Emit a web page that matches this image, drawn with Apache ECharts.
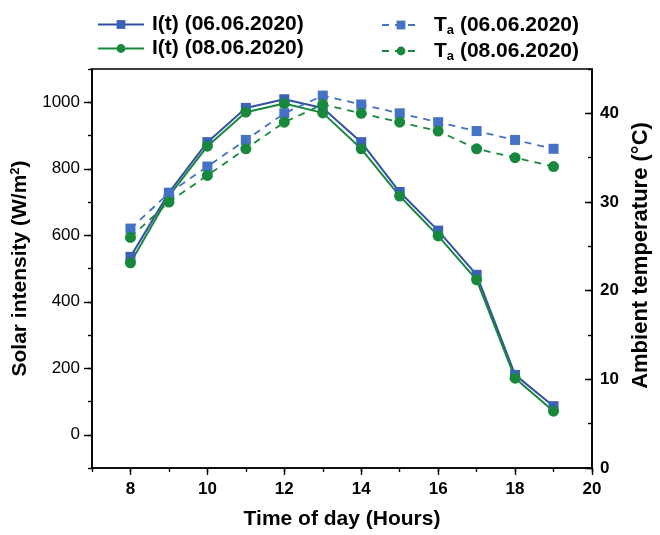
<!DOCTYPE html>
<html>
<head>
<meta charset="utf-8">
<script src="https://cdn.jsdelivr.net/npm/echarts@6/dist/echarts.min.js"></script>
<style>
	html, body { margin: 0; padding: 0; background: #fff; }
	#chart { width: 660px; height: 535px; }
</style>
</head>
<body>
<div id="chart"></div>
<script>
// hours of the day
var hours = [8, 9, 10, 11, 12, 13, 14, 15, 16, 17, 18, 19];
// solar intensity I(t), W/m2
var solar0606 = [535, 728, 880, 983, 1009, 983, 880, 730, 614, 481, 180, 86];
var solar0806 = [517, 718, 868, 970, 996, 968, 860, 718, 598, 466, 170, 71];
// ambient temperature Ta, degC
var temp0606 = [27, 31, 34, 37, 40, 42, 41, 40, 39, 38, 37, 36];
var temp0806 = [26, 30, 33, 36, 39, 41, 40, 39, 38, 36, 35, 34];

var xMajor = [8, 10, 12, 14, 16, 18, 20];
var leftMajor = [0, 200, 400, 600, 800, 1000];
var rightMajor = [0, 10, 20, 30, 40];

var FONT = "Liberation Sans";
var BLUE_LINE = "#3150a6";
var BLUE_MARK = "#3b62b8";
var BLUE_DASH = "#4472c4";
var GREEN = "#17883c";

function pairs(xs, ys) {
	var arr = [];
	for (var i = 0; i < xs.length; i++) {
		arr.push([xs[i], ys[i]]);
	}
	return arr;
}

var axisLine = { show: true, onZero: false, lineStyle: { color: "#000", width: 1.6 } };
var noLine = { show: false, onZero: false };

var legendRich = {
	b: { fontFamily: FONT, fontSize: 21, fontWeight: "bold", color: "#000", lineHeight: 24 },
	p: { fontFamily: FONT, fontSize: 21, fontWeight: "bold", color: "#000", lineHeight: 24, padding: [0, 0, 0, 3] },
	t: { fontFamily: FONT, fontSize: 21, fontWeight: "bold", color: "#000", lineHeight: 24, padding: [0, 0, 0, 9] },
	s: { fontFamily: FONT, fontSize: 13, fontWeight: "bold", color: "#000", lineHeight: 13, verticalAlign: "bottom", padding: [10, 0, 0, 0] }
};

var option = {
	animation: false,
	backgroundColor: "#fff",
	grid: {
		left: 92, right: 68, top: 69, bottom: 64,
		show: true, borderColor: "#000", borderWidth: 1.6, backgroundColor: "transparent"
	},
	legend: [
		{
			data: ["I(t) (06.06.2020)", "I(t) (08.06.2020)"],
			orient: "vertical",
			left: 92, top: 9,
			itemWidth: 46, itemHeight: 11, itemGap: 3,
			formatter: function (name) { return "{p|" + name + "}"; },
			textStyle: { rich: legendRich }
		},
		{
			data: ["Ta (06.06.2020)", "Ta (08.06.2020)"],
			orient: "vertical",
			left: 376, top: 9,
			itemWidth: 38, itemHeight: 11, itemGap: 3,
			formatter: function (name) {
				return "{t|T}{s|a}{b|" + name.substring(2) + "}";
			},
			textStyle: { rich: legendRich }
		}
	],
	xAxis: [
		{
			type: "value", min: 7, max: 20, interval: 1, position: "bottom",
			axisLine: axisLine,
			axisTick: { show: true, inside: false, length: 4, lineStyle: { color: "#000", width: 1.4 } },
			axisLabel: {
				margin: 13, fontFamily: FONT, fontSize: 17, fontWeight: "bold", color: "#000",
				formatter: function (v) { return v % 2 === 0 ? v : ""; }
			},
			splitLine: { show: false },
			name: "Time of day (Hours)", nameLocation: "middle", nameGap: 41,
			nameTextStyle: { fontFamily: FONT, fontSize: 21, fontWeight: "bold", color: "#000" }
		},
		{
			type: "value", min: 7, max: 20, interval: 1, position: "bottom",
			axisLine: noLine,
			axisTick: { show: true, inside: false, length: 7, customValues: xMajor, lineStyle: { color: "#000", width: 1.4 } },
			axisLabel: { show: false },
			splitLine: { show: false }
		}
	],
	yAxis: [
		{
			type: "value", min: -100, max: 1100, interval: 100, position: "left",
			axisLine: axisLine,
			axisTick: { show: true, inside: false, length: 4, lineStyle: { color: "#000", width: 1.4 } },
			axisLabel: {
				margin: 12, fontFamily: FONT, fontSize: 17, color: "#000",
				formatter: function (v) { return v % 200 === 0 ? v : ""; }
			},
			splitLine: { show: false },
			name: "Solar intensity (W/m{sup|2})", nameLocation: "middle", nameGap: 57,
			nameTextStyle: {
				fontFamily: FONT, fontSize: 21, fontWeight: "bold", color: "#000",
				rich: { sup: { fontFamily: FONT, fontSize: 13, fontWeight: "bold", color: "#000", verticalAlign: "top", lineHeight: 13, padding: [0, 0, 9, 0] } }
			}
		},
		{
			type: "value", min: 0, max: 45, interval: 5, position: "right",
			axisLine: axisLine,
			axisTick: { show: true, inside: true, length: 4, lineStyle: { color: "#000", width: 1.4 } },
			axisLabel: {
				margin: 8, fontFamily: FONT, fontSize: 17, fontWeight: "bold", color: "#000",
				formatter: function (v) { return v % 10 === 0 ? v : ""; }
			},
			splitLine: { show: false },
			name: "Ambient temperature (°C)", nameLocation: "middle", nameGap: 35, nameRotate: 90,
			nameTextStyle: { fontFamily: FONT, fontSize: 22, fontWeight: "bold", color: "#000", padding: [0, 0, 0, 26] }
		},
		{
			type: "value", min: -100, max: 1100, interval: 100, position: "left",
			axisLine: noLine,
			axisTick: { show: true, inside: false, length: 8, customValues: leftMajor, lineStyle: { color: "#000", width: 1.4 } },
			axisLabel: { show: false },
			splitLine: { show: false }
		},
		{
			type: "value", min: 0, max: 45, interval: 5, position: "right",
			axisLine: noLine,
			axisTick: { show: true, inside: true, length: 7, customValues: rightMajor, lineStyle: { color: "#000", width: 1.4 } },
			axisLabel: { show: false },
			splitLine: { show: false }
		}
	],
	series: [
		{
			name: "I(t) (06.06.2020)", type: "line", xAxisIndex: 0, yAxisIndex: 0,
			data: pairs(hours, solar0606),
			symbol: "rect", symbolSize: 10,
			lineStyle: { color: BLUE_LINE, width: 2 },
			itemStyle: { color: BLUE_MARK }
		},
		{
			name: "I(t) (08.06.2020)", type: "line", xAxisIndex: 0, yAxisIndex: 0,
			data: pairs(hours, solar0806),
			symbol: "circle", symbolSize: 11,
			lineStyle: { color: GREEN, width: 2 },
			itemStyle: { color: GREEN }
		},
		{
			name: "Ta (06.06.2020)", type: "line", xAxisIndex: 0, yAxisIndex: 1,
			data: pairs(hours, temp0606),
			symbol: "rect", symbolSize: 10,
			lineStyle: { color: BLUE_DASH, width: 1.8, type: [7, 6] },
			itemStyle: { color: BLUE_DASH }
		},
		{
			name: "Ta (08.06.2020)", type: "line", xAxisIndex: 0, yAxisIndex: 1,
			data: pairs(hours, temp0806),
			symbol: "circle", symbolSize: 11,
			lineStyle: { color: GREEN, width: 1.8, type: [7, 6] },
			itemStyle: { color: GREEN }
		}
	]
};

var myChart = echarts.init(document.getElementById("chart"));
myChart.setOption(option);
</script>
</body>
</html>
